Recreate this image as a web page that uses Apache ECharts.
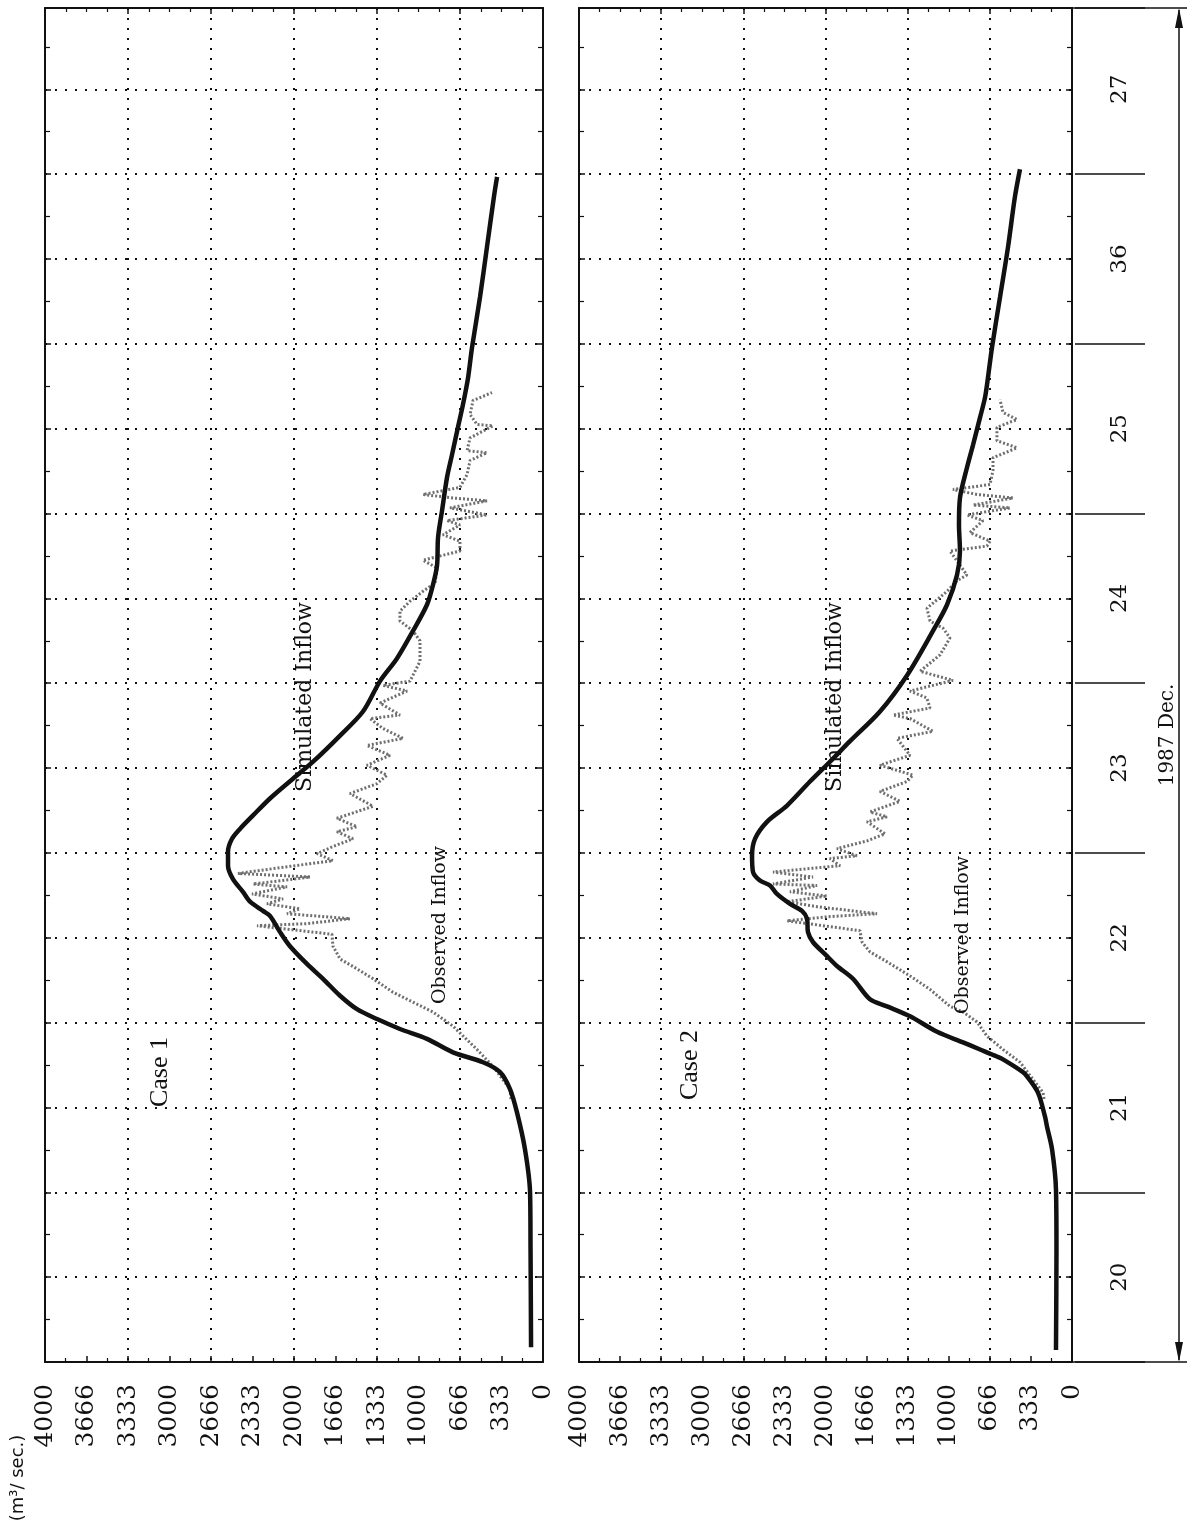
<!DOCTYPE html>
<html>
<head>
<meta charset="utf-8">
<title>Simulated and observed inflow, December 1987</title>
<script src="https://cdn.jsdelivr.net/npm/echarts@6/dist/echarts.min.js"></script>
<style>
  html, body { margin: 0; padding: 0; background: #fff; }
  #chart { width: 1187px; height: 1525px; }
</style>
</head>
<body>
<div id="chart"></div>
<script>
// tick labels
var valueLabels = ['0', '333', '666', '1000', '1333', '1666', '2000', '2333', '2666', '3000', '3333', '3666', '4000'];
var dayLabels = ['20', '21', '22', '23', '24', '25', '36', '27'];

// time = hours after Dec 20 00:00, flow in m3/sec
var simHours1 = [2.1, 15.9, 24.0, 30.1, 35.3, 38.6, 41.0, 42.4, 43.8, 45.7, 47.1, 48.5, 49.9, 51.8, 54.2, 56.3, 58.8, 60.8, 63.1, 63.8, 65.1, 66.5, 68.3, 70.2, 72.2, 74.0, 75.4, 77.3, 79.7, 82.5, 84.9, 88.6, 92.0, 96.3, 99.5, 103.4, 107.1, 109.9, 112.7, 116.6, 120.4, 125.1, 128.3, 132.2, 135.4, 139.2, 143.5, 150.6, 157.7, 164.8, 167.6];
var simFlow1 = [96, 100, 104, 145, 209, 265, 345, 482, 723, 932, 1149, 1333, 1494, 1630, 1767, 1896, 2032, 2112, 2193, 2249, 2353, 2410, 2490, 2530, 2530, 2498, 2434, 2329, 2193, 2008, 1847, 1630, 1446, 1309, 1173, 1044, 932, 884, 851, 843, 811, 771, 731, 683, 643, 602, 570, 506, 450, 394, 369];

var obsHours1 = [37.2, 38.6, 41.8, 44.2, 47.5, 49.5, 52.3, 54.2, 55.6, 57.0, 58.8, 60.5, 61.7, 62.0, 62.7, 63.4, 64.1, 64.8, 65.5, 66.2, 67.2, 67.6, 68.6, 69.1, 70.1, 70.9, 71.9, 72.9, 74.0, 75.0, 75.7, 76.9, 78.6, 80.4, 81.8, 83.0, 84.4, 85.8, 87.2, 88.2, 89.6, 91.0, 91.5, 93.2, 94.9, 95.7, 96.3, 99.1, 102.0, 103.4, 104.8, 106.2, 107.6, 109.0, 110.2, 112.3, 113.4, 114.7, 116.1, 117.0, 118.4, 119.0, 119.8, 120.8, 121.8, 122.2, 122.7, 123.7, 125.5, 127.5, 128.6, 128.9, 130.7, 132.4, 132.6, 134.0, 136.0, 137.1];
var obsFlow1 = [257, 265, 402, 530, 723, 884, 1205, 1365, 1494, 1630, 1687, 1695, 2297, 1896, 1550, 2056, 1952, 2217, 2088, 2337, 2056, 2329, 1871, 2450, 2032, 1687, 1815, 1687, 1526, 1655, 1494, 1655, 1365, 1550, 1333, 1253, 1414, 1229, 1414, 1124, 1285, 1390, 1149, 1309, 1092, 1285, 1068, 988, 988, 1044, 1149, 1149, 1068, 964, 867, 851, 964, 667, 667, 803, 667, 771, 450, 747, 450, 723, 964, 667, 610, 586, 450, 610, 586, 402, 530, 586, 562, 410];

var simHours2 = [1.7, 15.9, 24.4, 30.1, 33.3, 34.7, 38.1, 40.4, 41.0, 42.8, 43.2, 44.2, 45.2, 46.7, 48.9, 50.3, 51.3, 54.2, 56.0, 57.4, 59.4, 60.8, 62.7, 63.8, 64.8, 66.2, 67.4, 68.1, 69.3, 71.6, 74.0, 76.4, 78.7, 82.1, 84.9, 87.8, 92.0, 97.1, 103.4, 107.1, 111.3, 114.7, 118.4, 122.2, 126.5, 129.7, 133.6, 136.4, 139.2, 143.5, 150.6, 157.7, 164.8, 168.7];
var simFlow2 = [130, 126, 130, 162, 203, 219, 276, 365, 398, 560, 609, 746, 884, 1095, 1314, 1501, 1639, 1777, 1907, 1988, 2102, 2142, 2150, 2191, 2288, 2394, 2450, 2532, 2588, 2596, 2572, 2475, 2312, 2126, 1964, 1801, 1558, 1339, 1128, 1014, 933, 909, 917, 909, 852, 803, 746, 706, 682, 649, 584, 519, 463, 422];

var obsHours2 = [37.2, 38.1, 42.4, 44.2, 46.1, 48.1, 49.5, 50.3, 52.7, 54.6, 56.6, 58.0, 59.4, 61.0, 62.4, 63.0, 63.4, 64.4, 65.1, 65.9, 66.5, 67.4, 67.6, 68.6, 69.3, 70.2, 71.2, 71.6, 72.6, 73.7, 74.7, 76.4, 77.1, 77.8, 79.3, 80.7, 82.1, 83.0, 84.4, 85.8, 88.2, 89.2, 91.0, 91.5, 92.5, 93.9, 94.9, 96.4, 97.7, 100.0, 102.4, 103.8, 104.8, 106.6, 109.0, 110.5, 111.3, 114.7, 115.4, 116.1, 117.3, 119.0, 119.8, 120.8, 121.2, 122.2, 122.7, 123.4, 124.1, 126.1, 127.9, 129.3, 130.3, 132.2, 133.3, 134.3, 136.1];
var obsFlow2 = [227, 235, 422, 560, 690, 771, 884, 990, 1152, 1314, 1501, 1639, 1704, 1720, 2312, 1964, 1582, 2069, 2312, 1988, 2288, 2069, 2426, 2102, 2426, 1882, 1964, 1745, 1907, 1663, 1517, 1663, 1501, 1639, 1396, 1558, 1339, 1290, 1558, 1314, 1420, 1128, 1314, 1452, 1152, 1177, 1314, 966, 1233, 1071, 990, 1047, 1152, 1177, 1014, 933, 852, 990, 690, 665, 828, 722, 852, 503, 803, 479, 771, 966, 665, 641, 641, 446, 609, 609, 446, 560, 584];

var FLOW_MAX = 4000;
var HOUR_MAX = 191.5;
var INK = '#111';

function pairs(hours, flow) {
  return hours.map(function (h, i) { return [flow[i], h]; });
}

var dotted = { color: INK, width: 2, type: [2, 8] };
var edge = { show: true, onZero: false, lineStyle: { color: INK, width: 2 } };
var tick = { show: true, inside: true, length: 6, lineStyle: { color: INK, width: 1.5 } };

// the value axis is horizontal (4000 on the left), time runs upwards
function flowAxes(g) {
  return [
    {
      type: 'value', gridIndex: g, position: 'bottom', inverse: true,
      min: 0, max: FLOW_MAX, interval: FLOW_MAX / 12,
      axisLine: edge, axisTick: tick,
      minorTick: { show: true, splitNumber: 2, length: 4, lineStyle: { color: INK, width: 1.2 } },
      splitLine: { show: false },
      axisLabel: {
        rotate: 90, margin: 22, color: INK, fontFamily: 'DejaVu Serif', fontSize: 25,
        formatter: function (v) { return valueLabels[Math.round(v / (FLOW_MAX / 12))]; }
      }
    },
    {
      type: 'value', gridIndex: g, position: 'top', inverse: true,
      min: 0, max: FLOW_MAX, interval: FLOW_MAX / 6,
      axisLine: edge, axisTick: tick,
      minorTick: { show: true, splitNumber: 4, length: 4, lineStyle: { color: INK, width: 1.2 } },
      axisLabel: { show: false },
      splitLine: { show: true, lineStyle: dotted }
    }
  ];
}

function timeAxes(g) {
  return [
    {
      type: 'value', gridIndex: g, position: 'left', min: 0, max: HOUR_MAX, interval: 12,
      axisLine: edge, axisTick: tick,
      minorTick: { show: true, splitNumber: 2, length: 5, lineStyle: { color: INK, width: 1.2 } },
      axisLabel: { show: false },
      splitLine: { show: true, lineStyle: dotted }
    },
    {
      type: 'value', gridIndex: g, position: 'right', min: 0, max: HOUR_MAX, interval: 12,
      axisLine: edge, axisTick: tick,
      minorTick: { show: true, splitNumber: 2, length: 5, lineStyle: { color: INK, width: 1.2 } },
      axisLabel: { show: false },
      splitLine: { show: false }
    }
  ];
}

function simSeries(x, y, data) {
  return {
    type: 'line', xAxisIndex: x, yAxisIndex: y, data: data, z: 3,
    showSymbol: false, smooth: 0.3, animation: false,
    lineStyle: { color: INK, width: 4.5 }
  };
}

function obsSeries(x, y, data) {
  return {
    type: 'line', xAxisIndex: x, yAxisIndex: y, data: data, z: 2,
    showSymbol: false, animation: false,
    lineStyle: { color: '#6f6f6f', width: 3, type: [2, 2] }
  };
}

function vText(text, x, y, font) {
  return {
    type: 'text', x: x, y: y, rotation: Math.PI / 2, z: 10,
    style: { text: text, font: font, fill: INK, align: 'center', verticalAlign: 'middle', textAlign: 'center', textVerticalAlign: 'middle' }
  };
}

function seg(x1, y1, x2, y2) {
  return { type: 'line', z: 10, shape: { x1: x1, y1: y1, x2: x2, y2: y2 }, style: { stroke: INK, lineWidth: 1.5 } };
}

var myChart = echarts.init(document.getElementById('chart'), null, { renderer: 'canvas' });

var option = {
  backgroundColor: '#fff',
  animation: false,
  grid: [
    { left: 45, top: 8, width: 498, height: 1354 },
    { left: 579, top: 8, width: 493, height: 1354 },
    { left: 1075, top: 8, width: 70, height: 1354 }
  ],
  xAxis: flowAxes(0).concat(flowAxes(1)).concat([{ type: 'value', gridIndex: 2, show: false }]),
  yAxis: timeAxes(0).concat(timeAxes(1)).concat([
    {
      type: 'value', gridIndex: 2, min: 0, max: HOUR_MAX, interval: 24,
      axisLine: { show: false }, axisTick: { show: false }, axisLabel: { show: false },
      splitLine: { show: true, lineStyle: { color: INK, width: 1.5 } }
    },
    {
      type: 'value', gridIndex: 2, position: 'left', min: 0, max: HOUR_MAX, interval: 12,
      axisLine: { show: false }, axisTick: { show: false }, splitLine: { show: false },
      axisLabel: {
        inside: true, rotate: 90, margin: 34, color: INK, fontFamily: 'DejaVu Serif', fontSize: 23,
        formatter: function (v) { return v % 24 === 12 ? dayLabels[(v - 12) / 24] : ''; }
      }
    }
  ]),
  series: [
    obsSeries(0, 0, pairs(obsHours1, obsFlow1)),
    simSeries(0, 0, pairs(simHours1, simFlow1)),
    obsSeries(2, 2, pairs(obsHours2, obsFlow2)),
    simSeries(2, 2, pairs(simHours2, simFlow2))
  ],
  graphic: [
    vText('Case 1', 160, 1072, '26px "Liberation Serif"'),
    vText('Case 2', 690, 1065, '26px "Liberation Serif"'),
    vText('Simulated Inflow', 305, 697, '22px "DejaVu Serif"'),
    vText('Simulated Inflow', 835, 697, '22px "DejaVu Serif"'),
    vText('Observed Inflow', 440, 925, '19px "DejaVu Serif"'),
    vText('Observed Inflow', 963, 935, '19px "DejaVu Serif"'),
    vText('(m\u00b3/ sec.)', 18, 1478, '18px "DejaVu Sans"'),
    vText('1987 Dec.', 1168, 735, '20px "DejaVu Serif"'),
    seg(1072, 8, 1187, 8),
    seg(1072, 1362, 1187, 1362),
    seg(1179, 10, 1179, 1360),
    { type: 'polygon', z: 10, shape: { points: [[1179, 8], [1175, 28], [1183, 28]] }, style: { fill: INK } },
    { type: 'polygon', z: 10, shape: { points: [[1179, 1362], [1175, 1342], [1183, 1342]] }, style: { fill: INK } }
  ]
};

myChart.setOption(option);
window.addEventListener('resize', function () {
  myChart.resize();
});
</script>
</body>
</html>
